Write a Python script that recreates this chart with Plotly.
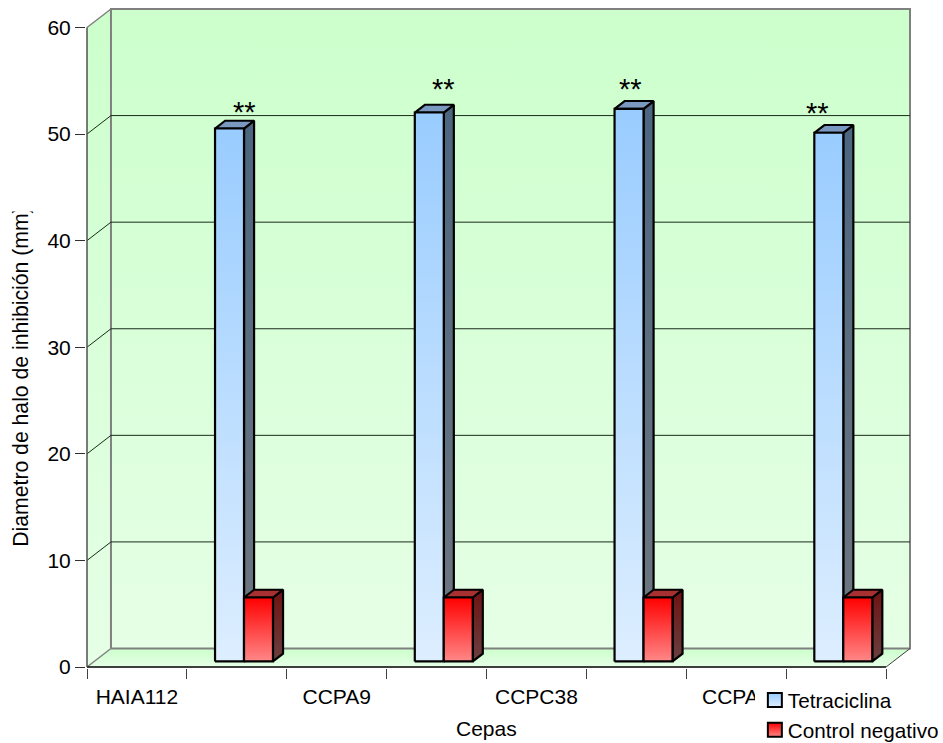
import plotly.graph_objects as go

# ---- data ----
tick_labels = ["HAIA112", "CCPA9", "CCPC38", "CCPA6"]
label_positions = [0.5, 2.5, 4.5, 6.5]
bar_slots = [1.5, 3.5, 5.5, 7.5]
tetraciclina = [50.0, 51.5, 51.85, 49.6]
control_negativo = [6.0, 6.0, 6.0, 6.0]
y_ticks = [0, 10, 20, 30, 40, 50, 60]
x_edges = [0, 1, 2, 3, 4, 5, 6, 7, 8]

# ---- projection of the 3D look (axis units) ----
PX_PER_X = 99.9
PX_PER_Y = 640 / 60
DX = 0.24                # depth shift along x, in category units
DY = 18.5 / PX_PER_Y     # depth shift along y, in value units
D0, D1 = 0.30, 0.72      # front/back depth of the bars
BAR_W = 0.29
X_MAX, Y_MAX = 8, 60
FONT = "Liberation Sans, Arial, sans-serif"
FS = 21
X_RANGE = [-0.01, 8.26]
Y_RANGE = [-0.094, 61.92]
PLOT_L, PLOT_W = 86, 8.27 * PX_PER_X
PLOT_B, PLOT_H = 668, 661.5


def p(x, y, d):
    return x + d * DX, y + d * DY


def poly(points, bottom, top, **kw):
    xs = [q[0] for q in points] + [points[0][0]]
    ys = [q[1] for q in points] + [points[0][1]]
    return go.Scatter(
        x=xs, y=ys, mode="lines", fill="toself",
        fillgradient=dict(type="vertical", colorscale=[[0, bottom], [1, top]]),
        hoverinfo="skip", showlegend=False, **kw)


def seg(a, b, color, width):
    return go.Scatter(x=[a[0], b[0]], y=[a[1], b[1]], mode="lines",
                      line=dict(color=color, width=width),
                      hoverinfo="skip", showlegend=False)


fig = go.Figure()

WALL_LINE = dict(color="#808080", width=2)
# walls and floor
fig.add_trace(poly([p(0, 0, 0), p(0, 0, 1), p(X_MAX, 0, 1), p(X_MAX, 0, 0)],
                   "#E6FFE6", "#CCFFCC", line=dict(width=0)))
fig.add_trace(poly([p(0, 0, 0), p(0, Y_MAX, 0), p(0, Y_MAX, 1), p(0, 0, 1)],
                   "#E6FFE6", "#CCFFCC", line=dict(width=0)))
fig.add_trace(poly([p(0, 0, 1), p(0, Y_MAX, 1), p(X_MAX, Y_MAX, 1), p(X_MAX, 0, 1)],
                   "#E6FFE6", "#CCFFCC", line=WALL_LINE))

# gridlines on side wall and back wall
for t in y_ticks[1:-1]:
    a, b, c = p(0, t, 0), p(0, t, 1), p(X_MAX, t, 1)
    fig.add_trace(go.Scatter(x=[a[0], b[0], c[0]], y=[a[1], b[1], c[1]], mode="lines",
                             line=dict(color="#1a2a1a", width=1),
                             hoverinfo="skip", showlegend=False))
# edges of the box
fig.add_trace(seg(p(0, Y_MAX, 0), p(0, Y_MAX, 1), "#808080", 1.5))
fig.add_trace(seg(p(0, 0, 0), p(0, 0, 1), "#808080", 1.5))
fig.add_trace(seg(p(X_MAX, 0, 0), p(X_MAX, 0, 1), "#404040", 1))
# the axis lines themselves stop at the front plane
fig.add_trace(seg(p(0, 0, 0), p(X_MAX, 0, 0), "black", 1.5))
fig.add_trace(seg(p(0, 0, 0), p(0, Y_MAX, 0), "#505050", 1.5))

BLK = dict(color="black", width=2.2)


def bar3d(left, value, front, side, topc):
    r = left + BAR_W
    fig.add_trace(poly([p(r, 0, D0), p(r, value, D0), p(r, value, D1), p(r, 0, D1)],
                       side[0], side[1], line=BLK))
    fig.add_trace(poly([p(left, value, D0), p(left, value, D1), p(r, value, D1), p(r, value, D0)],
                       topc, topc, line=BLK))
    fig.add_trace(poly([p(left, 0, D0), p(left, value, D0), p(r, value, D0), p(r, 0, D0)],
                       front[0], front[1], line=BLK))


for slot, a, b in zip(bar_slots, tetraciclina, control_negativo):
    bar3d(slot - BAR_W, a, ("#DDEEFF", "#99CCFF"), ("#6F7780", "#4C6680"), "#7A99C0")
    bar3d(slot, b, ("#FF8888", "#FF0000"), ("#6A4040", "#701212"), "#A83030")

# legend entries
fig.add_trace(go.Scatter(x=[None], y=[None], mode="markers", name="Tetraciclina",
                         marker=dict(symbol="square", size=14, color="#99CCFF",
                                     gradient=dict(type="vertical", color="#DDEEFF"),
                                     line=dict(color="black", width=2))))
fig.add_trace(go.Scatter(x=[None], y=[None], mode="markers", name="Control negativo",
                         marker=dict(symbol="square", size=14, color="#FF0000",
                                     gradient=dict(type="vertical", color="#FF8888"),
                                     line=dict(color="black", width=2))))

# significance marks
star_x = [(244.5 - 87) / PX_PER_X, (443.7 - 87) / PX_PER_X, (630.5 - 87) / PX_PER_X, (818 - 87) / PX_PER_X]
star_y = [(667 - 112) / PX_PER_Y, (667 - 89) / PX_PER_Y, (667 - 89) / PX_PER_Y, (667 - 113) / PX_PER_Y]
annotations = [dict(x=x, y=y, text="**", showarrow=False, font=dict(size=29, color="black"),
                    xanchor="center", yanchor="middle")
               for x, y in zip(star_x, star_y)]
# axis titles
annotations.append(dict(x=4, xref="x", y=(PLOT_B - 729) / PLOT_H, yref="paper", text="Cepas", showarrow=False,
                        xanchor="center", yanchor="middle", font=dict(size=FS, color="black")))
annotations.append(dict(x=(21 - PLOT_L) / PLOT_W, xref="paper", y=(667 - 376.5) / PX_PER_Y, yref="y",
                        text="Diametro de halo de inhibición (mm)", textangle=-90, showarrow=False,
                        xanchor="center", yanchor="middle", font=dict(size=21.2, color="black")))
# the reference's axis title is clipped at its top end
annotations.append(dict(x=(21 - PLOT_L) / PLOT_W, xref="paper", y=(667 - 199.5) / PX_PER_Y, yref="y", text=" ",
                        xanchor="center", yanchor="middle", width=40, height=20, bgcolor="white", showarrow=False))

fig.update_layout(
    width=943, height=743, autosize=False,
    margin=dict(l=PLOT_L, r=943 - PLOT_L - PLOT_W, t=6.5, b=75, pad=0, autoexpand=False),
    paper_bgcolor="white", plot_bgcolor="rgba(0,0,0,0)",
    font=dict(family=FONT, size=FS, color="black"),
    annotations=annotations,
    legend=dict(x=(755 - PLOT_L) / PLOT_W, xref="paper", xanchor="left", y=(PLOT_B - 680) / PLOT_H, yref="paper",
                yanchor="top", bgcolor="white", borderwidth=0, indentation=-7, font=dict(size=20.7),
                tracegroupgap=0),
    xaxis=dict(range=X_RANGE, tickmode="array", tickvals=label_positions, ticktext=tick_labels,
               ticks="outside", ticklen=10, tickcolor="rgba(0,0,0,0)", showgrid=False, zeroline=False,
               showline=False,
               minor=dict(tickmode="array", tickvals=x_edges, ticks="outside", ticklen=10,
                          tickcolor="#404040", tickwidth=1, showgrid=False)),
    yaxis=dict(range=Y_RANGE, tickmode="array", tickvals=y_ticks, ticks="outside", ticklen=10,
               tickcolor="#303030", tickwidth=1, showgrid=False, zeroline=False,
               showline=False),
)

POST = """
document.body.style.margin='0';document.body.style.overflow='hidden';
document.querySelectorAll('.legend .legendpoints path').forEach(function(e){e.setAttribute('transform','translate(27,0)');});
"""
fig.write_html("out.html", config=dict(displayModeBar=False), post_script=POST)
